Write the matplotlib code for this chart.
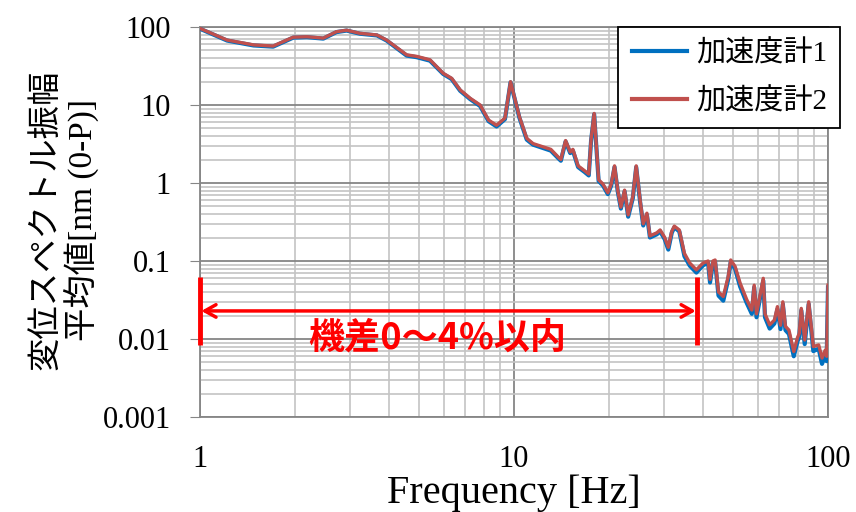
import matplotlib
matplotlib.use("Agg")
import matplotlib.pyplot as plt
from matplotlib.ticker import LogLocator, FixedLocator, NullFormatter

freq = [1.0, 1.22, 1.48, 1.71, 1.98, 2.19, 2.47, 2.72, 2.93, 3.23, 3.66, 3.93, 4.55, 4.90,
        5.40, 5.95, 6.33, 6.74, 7.25, 7.80, 8.30, 8.80, 9.36, 9.75, 10.4, 10.98, 11.5, 12.4,
        13.1, 13.8, 14.1, 14.6, 15.1, 15.4, 16.0, 16.8, 17.3, 17.6, 18.0, 18.6, 19.2, 19.9,
        20.4, 20.9, 21.4, 21.9, 22.5, 23.1, 23.9, 24.5, 25.2, 25.8, 26.5, 27.1, 28.5, 29.2,
        30.2, 31.0, 31.8, 32.4, 33.6, 34.9, 36.3, 38.1, 39.0, 40.0, 41.5, 42.1, 43.0, 43.7,
        44.8, 46.4, 48.1, 49.0, 50.6, 52.5, 55.1, 57.2, 58.2, 59.2, 62.2, 63.0, 65.2, 67.5,
        69.0, 70.6, 71.8, 73.2, 75.1, 77.8, 80.0, 81.0, 82.2, 84.3, 86.8, 89.8, 93.4, 95.7,
        98.0, 99.0, 100.0]

acc2 = [96, 68, 59, 57, 74, 75, 72, 87, 91, 83, 79, 68, 44, 42,
        38, 25.5, 22, 15.6, 12.2, 10, 6.4, 5.5, 6.8, 19.9, 7.1, 3.74, 3.2, 2.9,
        2.7, 2.17, 2.0, 3.5, 2.5, 2.7, 1.66, 1.43, 1.3, 3.6, 7.8, 1.1, 0.97, 0.75,
        0.97, 1.66, 0.81, 0.49, 0.81, 0.39, 0.67, 1.66, 0.61, 0.30, 0.41, 0.21, 0.23, 0.25,
        0.20, 0.15, 0.24, 0.28, 0.25, 0.125, 0.094, 0.077, 0.085, 0.094, 0.10, 0.058, 0.10, 0.103,
        0.040, 0.035, 0.063, 0.103, 0.085, 0.052, 0.032, 0.0235, 0.049, 0.021, 0.060, 0.021, 0.0152, 0.0175,
        0.026, 0.015, 0.030, 0.0145, 0.013, 0.0069, 0.0105, 0.0118, 0.0247, 0.0097, 0.030, 0.0080, 0.0084, 0.0057,
        0.0072, 0.0060, 0.049]

acc1 = [95, 67, 58, 56, 73, 74, 71, 86, 90, 82, 78, 67, 43, 41,
        37, 25, 21.5, 15.2, 11.9, 9.7, 6.2, 5.3, 6.6, 19.5, 6.9, 3.6, 3.1, 2.8,
        2.6, 2.1, 1.93, 3.4, 2.42, 2.6, 1.6, 1.38, 1.25, 3.5, 7.6, 1.06, 0.93, 0.72,
        0.93, 1.6, 0.78, 0.47, 0.78, 0.37, 0.64, 1.6, 0.58, 0.285, 0.39, 0.20, 0.22, 0.24,
        0.19, 0.14, 0.23, 0.27, 0.24, 0.115, 0.087, 0.071, 0.079, 0.088, 0.095, 0.053, 0.094, 0.098,
        0.036, 0.031, 0.058, 0.097, 0.079, 0.047, 0.029, 0.021, 0.046, 0.019, 0.056, 0.019, 0.0136, 0.0158,
        0.024, 0.0134, 0.028, 0.013, 0.0116, 0.0060, 0.0094, 0.0106, 0.0232, 0.0086, 0.028, 0.0070, 0.0075, 0.0048,
        0.0062, 0.0052, 0.046]

series_labels = ["加速度計1", "加速度計2"]
x_ticks = [1, 10, 100]
x_tick_labels = ["1", "10", "100"]
y_ticks = [0.001, 0.01, 0.1, 1, 10, 100]
y_tick_labels = ["0.001", "0.01", "0.1", "1", "10", "100"]
range_start = 1.0
range_end = 38.3
arrow_y = 0.0229
bar_low = 0.0084
bar_high = 0.0624
annotation = "機差0～4%以内"

fam = ["Liberation Serif", "Noto Sans CJK JP"]

fig = plt.figure(figsize=(8.56, 5.12), dpi=100)
ax = fig.add_axes([200/856, 1-417/512, 628/856, 390/512])
ax.set_xscale("log")
ax.set_yscale("log")
ax.set_xlim(1, 100)
ax.set_ylim(0.001, 100)

ax.plot(freq, acc1, color="#0070C0", lw=3.0, label=series_labels[0], zorder=3)
ax.plot(freq, acc2, color="#C0504D", lw=2.4, label=series_labels[1], zorder=4)

ax.xaxis.set_major_locator(FixedLocator(x_ticks))
ax.set_xticklabels(x_tick_labels, fontfamily=fam, fontsize=22)
ax.yaxis.set_major_locator(FixedLocator(y_ticks))
ax.set_yticklabels(y_tick_labels, fontfamily=fam, fontsize=22)
ax.xaxis.set_minor_locator(LogLocator(base=10, subs=range(2, 10)))
ax.yaxis.set_minor_locator(LogLocator(base=10, subs=range(2, 10)))
ax.xaxis.set_minor_formatter(NullFormatter())
ax.yaxis.set_minor_formatter(NullFormatter())
ax.tick_params(axis="x", which="both", length=0, pad=20)
ax.tick_params(axis="y", which="major", length=7, color="#868686", pad=14)
ax.tick_params(axis="y", which="minor", length=0)

ax.grid(True, which="major", color="#868686", lw=1.3, zorder=1)
ax.grid(True, which="minor", color="#c4c4c4", lw=1.2, zorder=0)
for s in ax.spines.values():
    s.set_color("#868686")
    s.set_linewidth(1.3)
ax.set_axisbelow(True)

ax.set_xlabel("Frequency [Hz]", fontfamily=fam, fontsize=29)
ax.xaxis.set_label_coords(0.5, -0.148)
ax.set_ylabel("変位スペクトル振幅\n平均値[nm (0-P)]", fontfamily=fam, fontsize=24,
              linespacing=1.1)
ax.yaxis.set_label_coords(-0.215, 0.505)
ax.yaxis.label.set_va("center")

# annotation bars and arrow
ax.plot([range_start, range_start], [bar_low, bar_high], color="#FF0000", lw=3.5, zorder=5,
        solid_capstyle="butt", clip_on=False)
ax.plot([range_end, range_end], [bar_low, bar_high], color="#FF0000", lw=3.5, zorder=5,
        solid_capstyle="butt")
ax.annotate("", xy=(range_start * 1.01, arrow_y), xytext=(range_end * 0.99, arrow_y),
            arrowprops=dict(arrowstyle="<->,head_length=0.8,head_width=0.45", color="#FF0000", lw=2.5,
                            shrinkA=0, shrinkB=0), zorder=5)
ax.text(5.7, arrow_y * 0.45, annotation, color="#FF0000", fontsize=26, fontweight="bold",
        fontfamily=["Noto Sans CJK JP"], ha="center", va="center", zorder=6)

leg = ax.legend(loc="upper right", bbox_to_anchor=(840/856, 1-27/512), bbox_transform=fig.transFigure,
                prop={"family": fam, "size": 21}, frameon=True, fancybox=False, edgecolor="black",
                framealpha=1, handlelength=1.9, handletextpad=0.3, borderpad=0.45, labelspacing=0.7,
                borderaxespad=0)
leg.get_frame().set_linewidth(1.3)
for h in leg.get_lines():
    h.set_linewidth(3)

fig.savefig("out.png", dpi=100)
